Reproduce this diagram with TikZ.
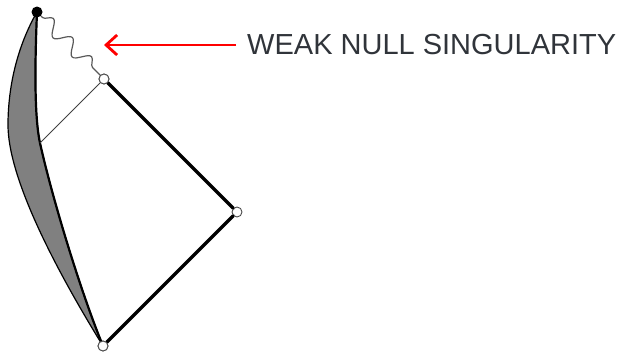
\documentclass[tikz,border=0pt]{standalone}
\usepackage{fontspec}
\setmainfont{Liberation Sans}
\usetikzlibrary{arrows.meta,decorations.pathmorphing}
\definecolor{txtgray}{HTML}{30343A}
\definecolor{fillgray}{HTML}{808080}
\tikzset{
  opendot/.style={circle,draw=black!70,fill=white,line width=0.9pt,minimum size=10pt,inner sep=0pt},
  filldot/.style={circle,fill=black,minimum size=11pt,inner sep=0pt},
  thickedge/.style={line width=3.2pt,line cap=round},
  thinedge/.style={line width=0.9pt,draw=black!75},
  wavy/.style={draw=black!65,line width=1.2pt,decorate,decoration={snake,segment length=27pt,amplitude=7pt,pre length=2pt,post length=3pt}},
  redarrow/.style={draw=red,line width=2.8pt,-{Straight Barb[length=11pt,width=20pt,line width=2.8pt]}},
  label/.style={font=\fontsize{29}{31}\selectfont,text=txtgray,inner sep=0pt,anchor=west}
}
\begin{document}
\begin{tikzpicture}[x=1pt,y=-1pt]
\useasboundingbox (0,0) rectangle (621,351);
% shaded region
\coordinate (top) at (37,12);
\coordinate (mid) at (40,143);
\coordinate (bot) at (103,346);
\filldraw[fill=fillgray,draw=black,line width=1.2pt]
  (top) .. controls (18,45) and (8,85) .. (8,125)
        .. controls (8,175) and (50,260) .. (bot)
        .. controls (80,290) and (52,197) .. (mid)
        .. controls (34,115) and (35,60) .. (top) -- cycle;
\draw[line width=2.2pt] (top) .. controls (35,60) and (34,115) .. (mid)
        .. controls (52,197) and (80,290) .. (bot);
% nodes
\node[opendot] (a) at (104,79) {};
\node[opendot] (b) at (237,212) {};
\node[opendot] (c) at (103,346) {};
\coordinate (m) at (mid);
\draw[thinedge] (a) -- (m);
\draw[thickedge] (a) -- (b) -- (c);
\node[filldot] (s) at (top) {};
\draw[wavy] (s) -- (a);
\node[opendot] at (104,79) {};
\node[opendot] at (103,346) {};
% label
\node[label] (t) at (247,45) {WEAK NULL SINGULARITY};
\coordinate (tip) at (104,45);
\draw[redarrow] (236,45) -- (tip);
\end{tikzpicture}
\end{document}
